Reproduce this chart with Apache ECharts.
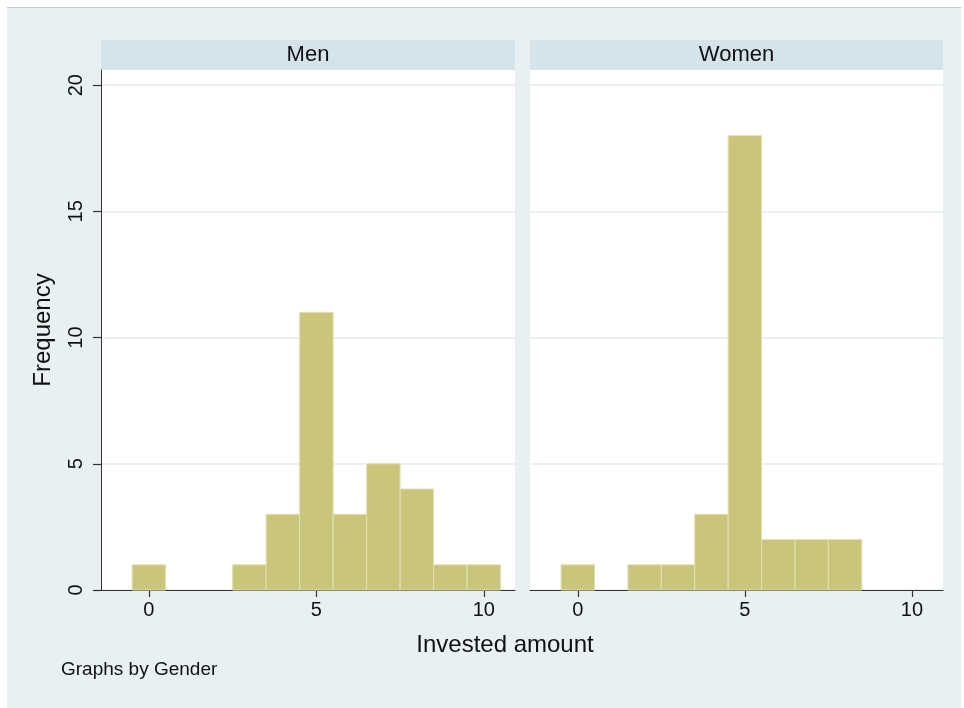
<!DOCTYPE html>
<html>
<head>
<meta charset="utf-8">
<script src="https://cdn.jsdelivr.net/npm/echarts@6/dist/echarts.min.js"></script>
<style>
html,body{margin:0;padding:0;background:#fff;}
#c{width:964px;height:708px;}
</style>
</head>
<body>
<div id="c"></div>
<script>
// Data
const panels = ['Men', 'Women'];
const binCenters = [0, 1, 2, 3, 4, 5, 6, 7, 8, 9, 10];
const menFreq   = [1, 0, 0, 1, 3, 11, 3, 5, 4, 1, 1];
const womenFreq = [1, 0, 1, 1, 3, 18, 2, 2, 2, 0, 0];
const xTicks = [0, 5, 10];
const yTicks = [0, 5, 10, 15, 20];
const xTitle = 'Invested amount';
const yTitle = 'Frequency';
const note = 'Graphs by Gender';

const FONT = '"Liberation Sans", Arial, Helvetica, sans-serif';
const chart = echarts.init(document.getElementById('c'), null, {renderer: 'canvas'});

function histData(freq) {
  return binCenters.map((c, i) => [c, freq[i]]).filter(d => d[1] > 0);
}

function renderBar(params, api) {
  const x = api.value(0), y = api.value(1);
  const p0 = api.coord([x - 0.5, y]);
  const p1 = api.coord([x + 0.5, 0]);
  return {
    type: 'rect',
    shape: {x: p0[0], y: p0[1], width: p1[0] - p0[0], height: p1[1] - p0[1]},
    style: {fill: '#c9c67c', stroke: '#e2e0b4', lineWidth: 1}
  };
}

const axisColor = '#333';
const gridColor = '#e3ebee';

const grids = [
  {left: 101, right: 449, top: 70, bottom: 118},
  {left: 530, right: 21, top: 70, bottom: 118}
].map(g => Object.assign(g, {show: true, backgroundColor: '#fff', borderWidth: 0, containLabel: false}));

const xAxes = [0, 1].map(i => ({
  type: 'value', gridIndex: i, min: -1.43, max: 10.93,
  axisLine: {show: true, onZero: false, lineStyle: {color: axisColor, width: 1}},
  axisTick: {show: true, length: 7, customValues: xTicks, lineStyle: {color: axisColor, width: 1.2}},
  axisLabel: {show: true, customValues: xTicks, color: '#111', fontSize: 20, fontFamily: FONT, margin: 10},
  splitLine: {show: false}
}));

const yAxes = [0, 1].map(i => ({
  type: 'value', gridIndex: i, min: 0, max: 20.6,
  name: i === 0 ? yTitle : '',
  nameLocation: 'middle', nameRotate: 90, nameGap: 46,
  nameTextStyle: {fontSize: 24, fontFamily: FONT, color: '#111'},
  axisLine: {show: i === 0, onZero: false, lineStyle: {color: axisColor, width: 1}},
  axisTick: {show: i === 0, length: 8, customValues: yTicks, lineStyle: {color: axisColor, width: 1.2}},
  axisLabel: {show: i === 0, customValues: yTicks, rotate: 90, color: '#111', fontSize: 20, fontFamily: FONT, margin: 15},
  splitLine: {show: true, lineStyle: {color: gridColor, width: 1.5}}
}));

const headers = [
  {x: 101, w: 414, text: panels[0]},
  {x: 530, w: 413, text: panels[1]}
];

const graphics = [
  {type: 'rect', z: -10, silent: true, shape: {x: 7, y: 7, width: 954, height: 701},
   style: {fill: '#e8f0f2'}},
  {type: 'line', z: -9, silent: true, shape: {x1: 7, y1: 7.5, x2: 961, y2: 7.5},
   style: {stroke: '#c8d0d2', lineWidth: 1}}
];
headers.forEach(h => {
  graphics.push({type: 'rect', silent: true, shape: {x: h.x, y: 40, width: h.w, height: 30}, style: {fill: '#d5e3ea'}});
  graphics.push({type: 'text', silent: true, x: h.x + h.w / 2, y: 55,
    style: {text: h.text, fill: '#111', font: '22px ' + FONT, align: 'center', verticalAlign: 'middle'}});
});
graphics.push({type: 'text', silent: true, x: 505, y: 645,
  style: {text: xTitle, fill: '#111', font: '24px ' + FONT, align: 'center', verticalAlign: 'middle'}});
graphics.push({type: 'text', silent: true, x: 61, y: 670,
  style: {text: note, fill: '#111', font: '19px ' + FONT, align: 'left', verticalAlign: 'middle'}});

chart.setOption({
  animation: false,
  backgroundColor: 'transparent',
  grid: grids,
  xAxis: xAxes,
  yAxis: yAxes,
  graphic: graphics,
  series: [
    {type: 'custom', xAxisIndex: 0, yAxisIndex: 0, renderItem: renderBar, data: histData(menFreq), z: 5},
    {type: 'custom', xAxisIndex: 1, yAxisIndex: 1, renderItem: renderBar, data: histData(womenFreq), z: 5}
  ]
});
</script>
</body>
</html>
